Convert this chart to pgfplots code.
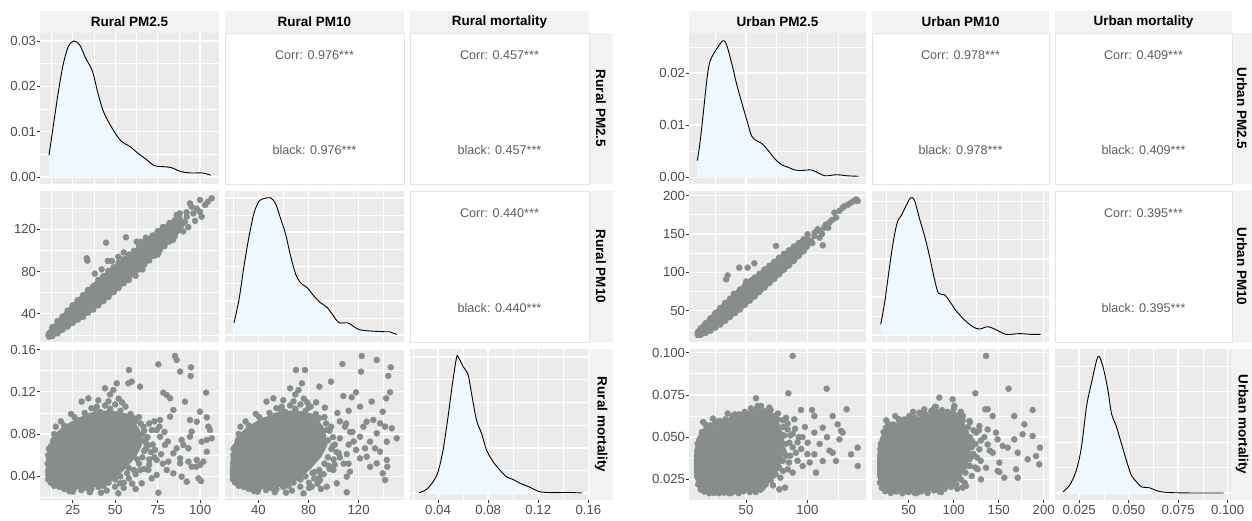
\documentclass[border=0pt]{standalone}
\usepackage{fontspec}
\setmainfont{Liberation Sans}
\usepackage{pgfplots}
\pgfplotsset{compat=1.18}

\definecolor{panelbg}{HTML}{EBEBEB}
\definecolor{stripbg}{HTML}{F2F2F2}
\definecolor{ptgrey}{HTML}{868D8B}
\definecolor{denfill}{HTML}{F0F8FF}
\definecolor{ticktext}{HTML}{4D4D4D}
\definecolor{tickline}{HTML}{333333}
\definecolor{corrtext}{HTML}{5E5E5E}
\definecolor{boxline}{HTML}{E3E3E3}

\newcommand{\tickfont}{\fontsize{13.2}{15}\selectfont}
\newcommand{\stripfont}{\fontsize{13.5}{16}\selectfont\bfseries}
\newcommand{\corrfont}{\fontsize{12.6}{15}\selectfont}

\pgfplotsset{
  panel/.style={
    scale only axis, anchor=north west,
    axis background/.style={fill=panelbg},
    axis line style={draw=none},
    grid=both,
    major grid style={white, line width=1.4pt},
    minor grid style={white, line width=0.7pt},
    tick style={draw=none},
    scaled ticks=false,
    xticklabels={}, yticklabels={},
  },
  ticksonly/.style={
    scale only axis, anchor=north west,
    axis line style={draw=none},
    tick align=outside, major tick length=2.75pt,
    tick style={tickline, line width=0.7pt},
    xtick pos=left, ytick pos=left,
    scaled ticks=false,
    ticklabel style={font=\tickfont, text=ticktext},
    yticklabel style={inner sep=1pt},
    xticklabel style={inner sep=2pt},
  },
  dens/.style={black, line width=0.9pt, smooth},
  densfill/.style={fill=denfill, draw=none, smooth},
  core/.style={fill=ptgrey, draw=ptgrey, line width=6pt, line join=round},
  pts/.style={only marks, mark=*, mark size=3pt, color=ptgrey, mark options={fill=ptgrey, draw=none}},
  xRpa/.style={xmin=5.7, xmax=111.1, xtick={25,50,75,100}, minor xtick={12.5,37.5,62.5,87.5}},
  xRpb/.style={xmin=13.3, xmax=156.2, xtick={40,80,120}, minor xtick={20,60,100,140}},
  yRpb/.style={ymin=13.3, ymax=156.2, ytick={40,80,120}, minor ytick={20,60,100,140}},
  xRm/.style={xmin=0.0176, xmax=0.1605, xtick={0.04,0.08,0.12,0.16}, minor xtick={0.02,0.06,0.10,0.14}},
  yRm/.style={ymin=0.0176, ymax=0.1605, ytick={0.04,0.08,0.12,0.16}, minor ytick={0.02,0.06,0.10,0.14}},
  xUpa/.style={xmin=3.5, xmax=147.8, xtick={50,100}, minor xtick={25,75,125}},
  xUpb/.style={xmin=9.2, xmax=205.9, xtick={50,100,150,200}, minor xtick={25,75,125,175}},
  yUpb/.style={ymin=9.2, ymax=205.9, ytick={50,100,150,200}, minor ytick={25,75,125,175}},
  xUm/.style={xmin=0.0128, xmax=0.1022, xtick={0.025,0.05,0.075,0.1}, minor xtick={0.0375,0.0625,0.0875}},
  yUm/.style={ymin=0.0128, ymax=0.1022, ytick={0.025,0.05,0.075,0.1}, minor ytick={0.0375,0.0625,0.0875}},
  Lw/.style={width=179pt, height=151pt},
  Rw/.style={width=177pt, height=151pt},
}

% text panels and strips
\newcommand{\corrpanel}[4]{% x, y, w, value
  \filldraw[fill=white, draw=boxline, line width=0.8pt] (#1pt,-#2pt) rectangle ++(#3pt,-151pt);
  \node[font=\corrfont, text=corrtext] at ({#1pt+#3pt/2},{-#2pt-22pt}) {Corr: #4***};
  \node[font=\corrfont, text=corrtext] at ({#1pt+#3pt/2},{-#2pt-117pt}) {black: #4***};
}
\newcommand{\topstrip}[3]{% x, w, label
  \fill[stripbg] (#1pt,-11pt) rectangle ++(#2pt,-22pt);
  \node[font=\stripfont] at ({#1pt+#2pt/2},-22pt) {#3};
}
\newcommand{\sidestrip}[4]{% x, w, y, label
  \fill[stripbg] (#1pt,-#3pt) rectangle ++(#2pt,-151pt);
  \node[font=\stripfont, rotate=-90] at ({#1pt+#2pt/2},{-#3pt-75.5pt}) {#4};
}

\begin{document}
\begin{tikzpicture}
\useasboundingbox (0pt,0pt) rectangle (1252pt,-521pt);

% ================= RURAL =================
\topstrip{40}{179}{Rural PM2.5}
\topstrip{225}{179}{Rural PM10}
\topstrip{410}{179}{Rural mortality}
\sidestrip{589}{24}{33}{Rural PM2.5}
\sidestrip{589}{24}{191}{Rural PM10}
\sidestrip{589}{24}{349}{Rural mortality}
\corrpanel{225}{33}{179}{0.976}
\corrpanel{410}{33}{179}{0.457}
\corrpanel{410}{191}{179}{0.440}

% R1C1 density PM2.5
\begin{axis}[panel, Lw, at={(40pt,-33pt)}, xRpa,
  ymin=-0.00153, ymax=0.03175, ytick={0,0.01,0.02,0.03}, minor ytick={0.005,0.015,0.025}]
\addplot[densfill] coordinates {(11.0,0.0048)(13.5,0.0112)(16.4,0.0185)(19.3,0.0247)(22.3,0.0287)(25.6,0.0300)(29.1,0.0291)(32.6,0.0262)(36.6,0.0233)(39.8,0.0185)(43.3,0.0142)(48.6,0.0105)(53.5,0.0079)(58.4,0.0068)(63.2,0.0053)(68.2,0.0039)(73.0,0.0025)(77.9,0.0023)(82.8,0.0021)(88.7,0.0012)(94.5,0.0009)(101.3,0.0009)(106.2,0.0004)} \closedcycle;
\addplot[dens] coordinates {(11.0,0.0048)(13.5,0.0112)(16.4,0.0185)(19.3,0.0247)(22.3,0.0287)(25.6,0.0300)(29.1,0.0291)(32.6,0.0262)(36.6,0.0233)(39.8,0.0185)(43.3,0.0142)(48.6,0.0105)(53.5,0.0079)(58.4,0.0068)(63.2,0.0053)(68.2,0.0039)(73.0,0.0025)(77.9,0.0023)(82.8,0.0021)(88.7,0.0012)(94.5,0.0009)(101.3,0.0009)(106.2,0.0004)};
\end{axis}
\begin{axis}[ticksonly, Lw, at={(40pt,-33pt)}, xmin=0, xmax=1, xtick=\empty,
  ymin=-0.00153, ymax=0.03175, ytick={0,0.01,0.02,0.03}, yticklabels={0.00,0.01,0.02,0.03}]
\end{axis}

% R2C1 scatter PM2.5 vs PM10
\begin{axis}[panel, Lw, at={(40pt,-191pt)}, xRpa, yRpb]
\addplot[core] coordinates {(10.5,20.5)(11,18)(20,27.4)(30,38.1)(40,49.8)(50,63.5)(60,78.2)(70,92.9)(80,107.6)(88,120.6)(88,130.6)(80,121.6)(70,108.9)(60,96.2)(50,83.5)(40,69.8)(30,54.1)(20,37.4)(12,23)} -- cycle;
\addplot[pts] coordinates {(33.2,92.5)(33.6,90.2)(44.6,107.3)(56.3,112.4)(45.6,90.0)(51.8,94.0)(62.6,108.2)(38,78)(42,82)(48,90)(55,98)(65,108)(68,112)(72,114)(75,118)(78,122)(82,126)(86.2,133.5)(92.1,131.9)(94.0,144.5)(95.0,141.3)(99.9,147.7)(102.9,143.0)(106.8,149.3)(104.5,146.0)(99.9,136.6)(100.9,131.9)(98.0,139.5)(96,135)(89.1,124.1)(91,127)(93,122)(97,128)(85,115)(90,118)(25,48)(28,52)(35,60)(58,72)(66,82)(75,96)(84,110)(62,76)(92,136)(88,135)
(13,27.5)(16,33)(19,37.5)(22,43)(25,47.5)(28,53)(31,57.5)(34,62.5)(37,66)(40,72)(43,75.5)(46,80.5)(49,84)(52,88.5)(55,91.5)(58,96)(61,99.5)(64,103.5)(67,107)(70,110.5)(73,114)(76,118)(79,121.5)(82,125)(85,128.5)
(13,19)(16,21.5)(19,25)(22,28)(25,31.5)(28,34.5)(31,37)(34,41)(37,44)(40,48)(43,52)(46,56)(49,60.5)(52,64.5)(55,69)(58,73.5)(61,78)(64,82)(67,86.5)(70,90.5)(73,95)(76,99.5)(79,104)(82,108.5)(85,113)};
\end{axis}
\begin{axis}[ticksonly, Lw, at={(40pt,-191pt)}, xmin=0, xmax=1, xtick=\empty,
  ymin=13.3, ymax=156.2, ytick={40,80,120}, yticklabels={40,80,120}]
\end{axis}

% R2C2 density PM10
\begin{axis}[panel, Lw, at={(225pt,-191pt)}, xRpb,
  ymin=-0.001, ymax=0.021, ytick={0,0.005,0.01,0.015,0.02}, minor ytick={0.0025,0.0075,0.0125,0.0175}]
\addplot[densfill] coordinates {(20.5,0.0018)(24.5,0.0052)(28.5,0.0101)(32.5,0.0144)(36.5,0.0178)(40.4,0.0195)(44.4,0.0199)(49.8,0.0200)(53.8,0.0191)(57.8,0.0169)(61.7,0.0147)(65.7,0.0115)(69.7,0.0089)(73.7,0.0076)(79.0,0.0069)(84.3,0.0057)(89.7,0.0047)(95.0,0.0040)(100.3,0.0027)(104.3,0.0018)(110.9,0.0018)(114.9,0.0014)(120.3,0.0008)(129.6,0.0006)(140.2,0.0005)(144.2,0.0005)(150.4,0.0001)} \closedcycle;
\addplot[dens] coordinates {(20.5,0.0018)(24.5,0.0052)(28.5,0.0101)(32.5,0.0144)(36.5,0.0178)(40.4,0.0195)(44.4,0.0199)(49.8,0.0200)(53.8,0.0191)(57.8,0.0169)(61.7,0.0147)(65.7,0.0115)(69.7,0.0089)(73.7,0.0076)(79.0,0.0069)(84.3,0.0057)(89.7,0.0047)(95.0,0.0040)(100.3,0.0027)(104.3,0.0018)(110.9,0.0018)(114.9,0.0014)(120.3,0.0008)(129.6,0.0006)(140.2,0.0005)(144.2,0.0005)(150.4,0.0001)};
\end{axis}

% R3C1 scatter PM2.5 vs mortality
\begin{axis}[panel, Lw, at={(40pt,-349pt)}, xRpa, yRm]
\addplot[core] coordinates {(10.6,0.0397)(11.2,0.0586)(13.6,0.0744)(19.4,0.0838)(27.3,0.0917)(37.1,0.0980)(46.9,0.1000)(56.7,0.0965)(62.6,0.0839)(64,0.070)(60.7,0.0600)(54.8,0.0491)(46.9,0.0380)(39.1,0.0330)(29.3,0.0310)(21.4,0.0310)(14.5,0.0340)} -- cycle;
\addplot[pts] coordinates {(85.2,0.1539)(86.2,0.1501)(75.4,0.1460)(94.6,0.1432)(94.4,0.1350)(88.2,0.1391)(58.1,0.1406)(57.7,0.1280)(59.7,0.1296)(64.6,0.1249)(50.9,0.1280)(44.0,0.1233)(48.9,0.1217)(103.5,0.1192)(78.3,0.1192)(80.3,0.1170)(82.3,0.1138)(30.2,0.1107)(34.2,0.1138)(39.1,0.1059)(91.1,0.1107)(99.9,0.1012)(103.9,0.0958)(98.0,0.0917)(94.0,0.0933)(84.2,0.1028)(82.3,0.0965)(76.4,0.0933)(74.4,0.0838)(104.8,0.0870)(105.8,0.0838)(100.9,0.0728)(106.8,0.0760)(95.0,0.0823)(94.0,0.0775)(89.1,0.0744)(90.1,0.0697)(86.2,0.0665)(84.2,0.0618)(76.4,0.0775)(79.3,0.0697)(73.4,0.0649)(74.4,0.0555)(81.3,0.0539)(88.2,0.0570)(93.1,0.0665)(98.0,0.0555)(99.9,0.0507)(95.0,0.0491)(103.9,0.0633)(101.9,0.0539)(80.3,0.0460)(84.2,0.0428)(89.1,0.0397)(92.1,0.0350)(100.5,0.0356)(99.0,0.0381)(97.6,0.0491)(88.2,0.0523)(69.5,0.0460)(71.5,0.0381)(74.4,0.0413)(64.6,0.0460)(65.6,0.0334)(52.8,0.0334)(49.9,0.0302)(51.8,0.0239)(41.6,0.0245)(75.4,0.0245)(93.1,0.0539)(103.9,0.0744)(71.5,0.0838)(66.6,0.0870)(66,0.0800)(68,0.0720)(67,0.0640)(63,0.0560)(58,0.0480)(70,0.0900)(62,0.0920)(72,0.0700)(70,0.0560)
(12,0.068)(14,0.080)(17,0.078)(20,0.088)(23,0.086)(26,0.096)(29,0.093)(32,0.100)(35,0.097)(38,0.104)(41,0.101)(44,0.107)(47,0.104)(50,0.108)(53,0.102)(56,0.106)(59,0.099)(61,0.095)
(65,0.090)(67,0.083)(69,0.077)(68,0.066)(66,0.058)(64,0.052)(61,0.046)
(57,0.043)(53,0.040)(50,0.037)(46,0.034)(43,0.031)(40,0.030)(36,0.028)(33,0.029)(30,0.027)(26,0.029)(23,0.026)(20,0.028)(17,0.030)(14,0.031)(12,0.034)(10.5,0.037)
(10.5,0.045)(10.2,0.052)(10.5,0.060)(11,0.066)
(57,0.092)(60,0.088)(63,0.078)(66,0.074)(69,0.069)(71,0.063)(73,0.058)(70,0.051)(67,0.047)(62,0.042)(58,0.038)(55,0.034)(60,0.033)(77,0.061)(78,0.052)(76,0.087)(73,0.092)(79,0.082)(81,0.073)(64,0.096)(54,0.110)(46,0.111)(40,0.112)(24,0.099)(18,0.092)(15,0.087)(36,0.1045)(52,0.1135)(47,0.1175)(25,0.0255)(35,0.0250)(45,0.0265)(55,0.029)(62,0.028)};
\end{axis}
\begin{axis}[ticksonly, Lw, at={(40pt,-349pt)}, xmin=5.7, xmax=111.1, xtick={25,50,75,100}, xticklabels={25,50,75,100},
  ymin=0.0176, ymax=0.1605, ytick={0.04,0.08,0.12,0.16}, yticklabels={0.04,0.08,0.12,0.16}]
\end{axis}

% R3C2 scatter PM10 vs mortality
\begin{axis}[panel, Lw, at={(225pt,-349pt)}, xRpb, yRm]
\addplot[core] coordinates {(19.5,0.0397)(20.3,0.0586)(23.6,0.0744)(31.6,0.0838)(42.4,0.0917)(55.8,0.0980)(69.3,0.1000)(82.7,0.0965)(90.8,0.0839)(92.7,0.0700)(88.2,0.0600)(80.1,0.0491)(69.3,0.0380)(58.6,0.0330)(45.1,0.0310)(34.3,0.0310)(24.9,0.0340)} -- cycle;
\addplot[pts] coordinates {(122.4,0.1539)(134.4,0.1501)(107.0,0.1463)(121.9,0.1391)(143.7,0.1350)(145.6,0.1432)(97.9,0.1296)(88.6,0.1249)(77.2,0.1406)(117.9,0.1195)(145.0,0.1195)(107.8,0.1160)(114.4,0.1148)(130.4,0.1107)(141.9,0.1138)(121.1,0.1059)(139.2,0.1012)(131.7,0.0933)(137.1,0.0902)(126.4,0.0917)(123.8,0.0870)(146.4,0.0854)(150.4,0.0760)(141.1,0.0870)(142.4,0.0728)(134.4,0.0807)(121.1,0.0775)(129.1,0.0728)(125.1,0.0665)(133.1,0.0665)(137.1,0.0633)(121.1,0.0570)(126.4,0.0586)(142.4,0.0555)(142.9,0.0491)(134.4,0.0523)(139.2,0.0428)(129.1,0.0491)(141.1,0.0365)(113.1,0.0444)(110.5,0.0397)(110.5,0.0249)(94.5,0.0302)(102.5,0.0334)(82.5,0.0302)(89.2,0.0365)(99.8,0.0460)(65.3,0.1233)(72.0,0.1217)(74.7,0.1280)(70.0,0.1406)(46.4,0.1107)(51.9,0.1138)(58.6,0.1059)(73.4,0.0302)(62.0,0.0245)(76.0,0.0239)(95,0.0838)(98,0.0870)(101,0.0700)(104,0.0620)(100,0.0560)(96,0.0500)(92,0.0420)(105,0.0760)(110,0.0900)(115,0.0820)(112,0.0700)(118,0.0650)(108,0.0520)(85,0.0440)(88,0.0380)(93,0.1050)(103,0.1000)(112,0.1020)(86,0.1100)(80,0.1050)
(21.4,0.068)(24.2,0.080)(28.3,0.078)(32.4,0.088)(36.5,0.086)(40.6,0.096)(44.7,0.093)(48.8,0.100)(53,0.097)(57.1,0.104)(61.2,0.101)(65.3,0.107)(69.4,0.104)(73.5,0.108)(77.6,0.102)(81.7,0.106)(85.8,0.099)(88.6,0.095)
(94,0.090)(96.8,0.083)(99.5,0.077)(98.2,0.066)(95.4,0.058)(92.7,0.052)(88.6,0.046)
(83.1,0.043)(77.6,0.040)(73.5,0.037)(68,0.034)(63.9,0.031)(59.8,0.030)(54.3,0.028)(50.2,0.029)(46.1,0.027)(40.6,0.029)(36.5,0.026)(32.4,0.028)(28.3,0.030)(24.2,0.031)(21.4,0.034)(19.6,0.037)
(19.6,0.045)(19.7,0.052)(20,0.060)(20.1,0.066)
(83.1,0.092)(87.2,0.088)(91.3,0.078)(95.4,0.074)(99.5,0.069)(102.3,0.063)(105,0.058)(100.9,0.051)(96.8,0.047)(89.9,0.042)(84.5,0.038)(80.4,0.034)(87.2,0.033)(110.5,0.061)(111.9,0.052)(109.1,0.087)(105,0.092)(113.2,0.082)(116,0.073)(92.7,0.096)(79,0.110)(68,0.111)(59.8,0.112)(37.9,0.099)(29.7,0.092)(25.6,0.087)(54.3,0.1045)(76.2,0.1135)(69.4,0.1175)(39.3,0.0255)(53,0.0250)(66.7,0.0265)(80.4,0.029)(89.9,0.028)};
\end{axis}
\begin{axis}[ticksonly, Lw, at={(225pt,-349pt)}, xmin=13.3, xmax=156.2, xtick={40,80,120}, xticklabels={40,80,120},
  ymin=0, ymax=1, ytick=\empty]
\end{axis}

% R3C3 density mortality
\begin{axis}[panel, Lw, at={(410pt,-349pt)}, xRm,
  ymin=-1.515, ymax=31.8, ytick={0,10,20,30}, minor ytick={5,15,25}]
\addplot[densfill] coordinates {(0.0248,0.1)(0.0307,0.8)(0.0360,2.5)(0.0400,4.7)(0.0440,9.5)(0.0480,16.9)(0.0515,24.2)(0.0547,29.8)(0.0560,30.1)(0.0600,27.9)(0.0640,26.1)(0.0667,22.0)(0.0707,16.1)(0.0747,13.2)(0.0787,9.5)(0.0840,6.9)(0.0893,5.1)(0.0947,3.6)(0.1000,3.0)(0.1053,2.2)(0.1133,1.3)(0.1213,0.3)(0.1320,0.1)(0.1427,0.15)(0.1547,0.05)} \closedcycle;
\addplot[dens] coordinates {(0.0248,0.1)(0.0307,0.8)(0.0360,2.5)(0.0400,4.7)(0.0440,9.5)(0.0480,16.9)(0.0515,24.2)(0.0547,29.8)(0.0560,30.1)(0.0600,27.9)(0.0640,26.1)(0.0667,22.0)(0.0707,16.1)(0.0747,13.2)(0.0787,9.5)(0.0840,6.9)(0.0893,5.1)(0.0947,3.6)(0.1000,3.0)(0.1053,2.2)(0.1133,1.3)(0.1213,0.3)(0.1320,0.1)(0.1427,0.15)(0.1547,0.05)};
\end{axis}
\begin{axis}[ticksonly, Lw, at={(410pt,-349pt)}, xmin=0.0176, xmax=0.1605, xtick={0.04,0.08,0.12,0.16}, xticklabels={0.04,0.08,0.12,0.16},
  ymin=0, ymax=1, ytick=\empty]
\end{axis}

% ================= URBAN =================
\topstrip{689}{177}{Urban PM2.5}
\topstrip{872}{177}{Urban PM10}
\topstrip{1055}{177}{Urban mortality}
\sidestrip{1232}{20}{33}{Urban PM2.5}
\sidestrip{1232}{20}{191}{Urban PM10}
\sidestrip{1232}{20}{349}{Urban mortality}
\corrpanel{872}{33}{177}{0.978}
\corrpanel{1055}{33}{177}{0.409}
\corrpanel{1055}{191}{177}{0.395}

% R1C1 density PM2.5
\begin{axis}[panel, Rw, at={(689pt,-33pt)}, xUpa,
  ymin=-0.00128, ymax=0.02768, ytick={0,0.01,0.02}, minor ytick={0.005,0.015,0.025}]
\addplot[densfill] coordinates {(10.3,0.0032)(12.5,0.0067)(15.2,0.0124)(18.4,0.0194)(20.6,0.0222)(23.8,0.0238)(27.4,0.0251)(30.2,0.0260)(32.0,0.0262)(34.2,0.0254)(38.3,0.0219)(42.4,0.0178)(46.5,0.0143)(50.5,0.0111)(54.6,0.0079)(58.7,0.0070)(62.8,0.0065)(68.2,0.0051)(73.6,0.0035)(79.1,0.0024)(84.5,0.0019)(90.0,0.0014)(95.4,0.0013)(99.5,0.0014)(103.5,0.0014)(107.6,0.0010)(114.4,0.0003)(123.9,0.0005)(132.1,0.0003)(141.5,0.0002)} \closedcycle;
\addplot[dens] coordinates {(10.3,0.0032)(12.5,0.0067)(15.2,0.0124)(18.4,0.0194)(20.6,0.0222)(23.8,0.0238)(27.4,0.0251)(30.2,0.0260)(32.0,0.0262)(34.2,0.0254)(38.3,0.0219)(42.4,0.0178)(46.5,0.0143)(50.5,0.0111)(54.6,0.0079)(58.7,0.0070)(62.8,0.0065)(68.2,0.0051)(73.6,0.0035)(79.1,0.0024)(84.5,0.0019)(90.0,0.0014)(95.4,0.0013)(99.5,0.0014)(103.5,0.0014)(107.6,0.0010)(114.4,0.0003)(123.9,0.0005)(132.1,0.0003)(141.5,0.0002)};
\end{axis}
\begin{axis}[ticksonly, Rw, at={(689pt,-33pt)}, xmin=0, xmax=1, xtick=\empty,
  ymin=-0.00128, ymax=0.02768, ytick={0,0.01,0.02}, yticklabels={0.00,0.01,0.02}]
\end{axis}

% R2C1 scatter PM2.5 vs PM10
\begin{axis}[panel, Rw, at={(689pt,-191pt)}, xUpa, yUpb]
\addplot[core] coordinates {(10.5,22)(10.5,18)(20,24.7)(30,35.2)(45,53.6)(60,75)(75,96.4)(90,118.7)(100,134.3)(100,144.3)(90,132.7)(75,114.4)(60,95)(45,75.6)(30,53.2)(20,36.7)} -- cycle;
\addplot[pts] coordinates {(74.4,134.3)(44.5,106.0)(51.3,106.0)(35.0,96.0)(33.7,90.8)(56.8,111.7)(112.5,135.1)(108.4,156.0)(139.7,195.0)(141.0,192.9)(135.6,190.7)(128.8,184.2)(126.1,179.9)(122.0,177.7)(123.4,171.2)(113.8,158.1)(109.8,153.8)(105.7,147.3)(100.2,149.5)(94.8,136.4)(103.0,140.8)(118,165)(115,162)(120,168)(110,145)(106,152)(130,186)(133,188)(138,193)(117,158)(96,140)(92,128)(85,122)(65,100)(70,108)(40,72)(50,88)(55,90)(80,104)(104,138)(112,150)
(13,27)(17,33.5)(21,40)(25,47)(29,53.5)(33,60)(37,65.5)(41,71.5)(45,77.5)(49,82.5)(53,88)(57,93)(61,98)(65,103.5)(69,108.5)(73,113.5)(77,119)(81,124)(85,128.5)(89,133.5)(93,138)(97,143)
(13,18.5)(17,21)(21,24)(25,28)(29,32)(33,37)(37,42)(41,47)(45,51.5)(49,57.5)(53,63)(57,68.5)(61,74.5)(65,80)(69,86)(73,91.5)(77,97.5)(81,103.5)(85,109)(89,115)(93,121.5)(97,127.5)};
\end{axis}
\begin{axis}[ticksonly, Rw, at={(689pt,-191pt)}, xmin=0, xmax=1, xtick=\empty,
  ymin=9.2, ymax=205.9, ytick={50,100,150,200}, yticklabels={50,100,150,200}]
\end{axis}

% R2C2 density PM10
\begin{axis}[panel, Rw, at={(872pt,-191pt)}, xUpb,
  ymin=-0.0009, ymax=0.0189, ytick={0,0.005,0.01,0.015}, minor ytick={0.0025,0.0075,0.0125,0.0175}]
\addplot[densfill] coordinates {(18.9,0.0014)(23.3,0.0043)(27.8,0.0082)(32.5,0.0120)(37.3,0.0148)(41.8,0.0157)(46.9,0.0169)(51.9,0.0180)(56.3,0.0177)(61.9,0.0153)(67.4,0.0131)(73.0,0.0104)(78.5,0.0074)(83.0,0.0055)(89.7,0.0053)(95.2,0.0045)(102.6,0.0032)(111.9,0.0020)(121.2,0.0011)(128.6,0.0008)(137.8,0.0011)(147.1,0.0007)(158.2,0.0001)(173.1,0.0002)(186.1,0.0001)(196.6,0.0001)} \closedcycle;
\addplot[dens] coordinates {(18.9,0.0014)(23.3,0.0043)(27.8,0.0082)(32.5,0.0120)(37.3,0.0148)(41.8,0.0157)(46.9,0.0169)(51.9,0.0180)(56.3,0.0177)(61.9,0.0153)(67.4,0.0131)(73.0,0.0104)(78.5,0.0074)(83.0,0.0055)(89.7,0.0053)(95.2,0.0045)(102.6,0.0032)(111.9,0.0020)(121.2,0.0011)(128.6,0.0008)(137.8,0.0011)(147.1,0.0007)(158.2,0.0001)(173.1,0.0002)(186.1,0.0001)(196.6,0.0001)};
\end{axis}

% R3C1 scatter PM2.5 vs mortality
\begin{axis}[panel, Rw, at={(689pt,-349pt)}, xUpa, yUm]
\addplot[core] coordinates {(10.0,0.0388)(10.0,0.0270)(14.6,0.0201)(28.2,0.0181)(44.5,0.0191)(60.8,0.0211)(71.7,0.0270)(77.1,0.0369)(78.5,0.0487)(74.4,0.0586)(66.3,0.0625)(55.4,0.0625)(41.8,0.0606)(30.9,0.0566)(17.4,0.0546)(11.9,0.0487)} -- cycle;
\addplot[pts] coordinates {(88.0,0.0981)(84.5,0.0760)(115.7,0.0787)(132.0,0.0665)(58.1,0.0730)(59.5,0.0685)(94.8,0.0661)(103.8,0.0661)(69.0,0.0675)(120.6,0.0625)(105.7,0.0625)(82.6,0.0615)(89.4,0.0606)(73.1,0.0625)(124.7,0.0576)(127.4,0.0537)(128.8,0.0527)(112.5,0.0556)(105.7,0.0527)(141.0,0.0438)(135.6,0.0398)(141.0,0.0329)(126.1,0.0487)(120.6,0.0408)(123.3,0.0359)(112.5,0.0359)(105.7,0.0398)(107.0,0.0290)(96.2,0.0329)(100.2,0.0467)(90.7,0.0408)(82.6,0.0389)(88.0,0.0290)(81.8,0.0201)(77.1,0.0191)(66.3,0.0231)(63.6,0.0201)(48.6,0.0201)(83.9,0.0546)(78.5,0.0517)(74.4,0.0467)(79.9,0.0428)(85.3,0.0467)(75.8,0.0329)(70.3,0.0349)(64.9,0.0290)(73.1,0.0388)(18.7,0.0556)(28.2,0.0596)(39.1,0.0625)(44.5,0.0635)(48.6,0.0625)(62.2,0.0685)(66.3,0.0635)(93,0.0500)(98,0.0560)(88,0.0520)(110,0.0460)(116,0.0500)(118,0.0420)(95,0.0430)(102,0.0350)(80,0.0300)(85,0.0350)
(14,0.0530)(17,0.0575)(21,0.0570)(25,0.0590)(29,0.0585)(33,0.0605)(37,0.0600)(41,0.0635)(45,0.0630)(49,0.0650)(53,0.0640)(57,0.0660)(61,0.0650)(65,0.0655)(69,0.0640)(72,0.0620)(76,0.0605)
(80,0.0560)(81,0.0510)(82,0.0460)(81,0.0410)(80,0.0360)(77,0.0320)(74,0.0280)(70,0.0245)
(66,0.0220)(62,0.0190)(57,0.0195)(53,0.0175)(48,0.0180)(44,0.0168)(40,0.0178)(36,0.0168)(32,0.0172)(28,0.0168)(24,0.0170)(20,0.0168)(16,0.0178)(13,0.0190)(11,0.0220)
(10.2,0.0300)(10.1,0.0340)(10.3,0.0420)(10.5,0.0460)
(80,0.0600)(84,0.0580)(86,0.0510)(88,0.0440)(86,0.0390)(84,0.0310)(78,0.0260)(72,0.0215)(92,0.0470)(90,0.0550)(96,0.0500)(100,0.0400)(92,0.0360)(76,0.0640)(70,0.0660)(54,0.0670)(35,0.0640)(23,0.0610)(15,0.0590)(58,0.0175)(38,0.0170)};
\end{axis}
\begin{axis}[ticksonly, Rw, at={(689pt,-349pt)}, xmin=3.5, xmax=147.8, xtick={50,100}, xticklabels={50,100},
  ymin=0.0128, ymax=0.1022, ytick={0.025,0.05,0.075,0.1}, yticklabels={0.025,0.050,0.075,0.100}]
\end{axis}

% R3C2 scatter PM10 vs mortality
\begin{axis}[panel, Rw, at={(872pt,-349pt)}, xUpb, yUm]
\addplot[core] coordinates {(18.1,0.0388)(18.1,0.0270)(24.8,0.0191)(47.0,0.0181)(76.6,0.0201)(98.8,0.0231)(109.9,0.0310)(115.5,0.0408)(113.6,0.0527)(106.2,0.0605)(91.4,0.0625)(76.6,0.0625)(61.8,0.0605)(43.3,0.0576)(28.5,0.0556)(21.1,0.0487)} -- cycle;
\addplot[pts] coordinates {(135.9,0.0981)(124.0,0.0760)(161.0,0.0787)(187.7,0.0661)(167.3,0.0625)(178.5,0.0576)(187.7,0.0507)(195.9,0.0438)(195.1,0.0339)(191.4,0.0388)(182.2,0.0369)(171.1,0.0408)(169.2,0.0310)(171.1,0.0260)(150.7,0.0294)(156.2,0.0260)(135.1,0.0665)(137.7,0.0665)(143.3,0.0625)(98.8,0.0724)(100.7,0.0685)(84.0,0.0734)(78.5,0.0675)(110.0,0.0625)(117.4,0.0596)(128.5,0.0566)(124.8,0.0527)(137.7,0.0546)(147.0,0.0527)(148.8,0.0487)(154.4,0.0448)(143.3,0.0408)(137.7,0.0457)(128.5,0.0428)(126.6,0.0310)(135.9,0.0319)(150.7,0.0349)(109.9,0.0201)(113.6,0.0211)(95.1,0.0250)(117.4,0.0369)(106.2,0.0487)(115.5,0.0467)(130.3,0.0250)(160.0,0.0438)(167.3,0.0487)(176.6,0.0517)(148.8,0.0300)(24.8,0.0556)(39.6,0.0606)(50.7,0.0625)(61.8,0.0645)(67.3,0.0665)(120,0.0480)(122,0.0400)(118,0.0330)
(22,0.0530)(27,0.0580)(33,0.0575)(39,0.0600)(45,0.0605)(51,0.0620)(57,0.0615)(63,0.0640)(69,0.0635)(75,0.0655)(81,0.0650)(87,0.0660)(93,0.0650)(99,0.0645)(105,0.0630)(110,0.0600)
(116,0.0560)(118,0.0500)(120,0.0440)(119,0.0380)(116,0.0330)(113,0.0290)(108,0.0250)(103,0.0220)
(97,0.0205)(90,0.0195)(84,0.0178)(78,0.0185)(71,0.0170)(64,0.0180)(57,0.0168)(50,0.0175)(43,0.0168)(36,0.0178)(30,0.0170)(24,0.0180)(20,0.0200)(18,0.0230)
(18.1,0.0310)(18.1,0.0350)(18.5,0.0430)(19,0.0460)
(118,0.0590)(122,0.0540)(124,0.0460)(126,0.0380)(124,0.0320)(120,0.0270)(112,0.0230)(104,0.0195)(130,0.0480)(128,0.0540)(134,0.0500)(140,0.0420)(130,0.0360)(108,0.0650)(100,0.0670)(80,0.0680)(55,0.0650)(35,0.0625)(25,0.0600)(86,0.0175)(60,0.0172)};
\end{axis}
\begin{axis}[ticksonly, Rw, at={(872pt,-349pt)}, xmin=9.2, xmax=205.9, xtick={50,100,150,200}, xticklabels={50,100,150,200},
  ymin=0, ymax=1, ytick=\empty]
\end{axis}

% R3C3 density mortality
\begin{axis}[panel, Rw, at={(1055pt,-349pt)}, xUm,
  ymin=-2.7, ymax=56.7, ytick={0,20,40}, minor ytick={10,30,50}]
\addplot[densfill] coordinates {(0.0169,0.6)(0.0203,3.2)(0.0236,9.1)(0.0262,18.3)(0.0287,34.0)(0.0312,43.3)(0.0345,53.7)(0.0370,49.8)(0.0395,40.6)(0.0413,31.4)(0.0438,26.2)(0.0463,19.6)(0.0488,13.0)(0.0513,7.1)(0.0539,4.5)(0.0564,2.5)(0.0605,2.1)(0.0648,0.8)(0.0690,0.3)(0.0773,0.1)(0.0891,0.05)(0.0979,0.05)} \closedcycle;
\addplot[dens] coordinates {(0.0169,0.6)(0.0203,3.2)(0.0236,9.1)(0.0262,18.3)(0.0287,34.0)(0.0312,43.3)(0.0345,53.7)(0.0370,49.8)(0.0395,40.6)(0.0413,31.4)(0.0438,26.2)(0.0463,19.6)(0.0488,13.0)(0.0513,7.1)(0.0539,4.5)(0.0564,2.5)(0.0605,2.1)(0.0648,0.8)(0.0690,0.3)(0.0773,0.1)(0.0891,0.05)(0.0979,0.05)};
\end{axis}
\begin{axis}[ticksonly, Rw, at={(1055pt,-349pt)}, xmin=0.0128, xmax=0.1022, xtick={0.025,0.05,0.075,0.1}, xticklabels={0.025,0.050,0.075,0.100},
  ymin=0, ymax=1, ytick=\empty]
\end{axis}

\end{tikzpicture}
\end{document}
